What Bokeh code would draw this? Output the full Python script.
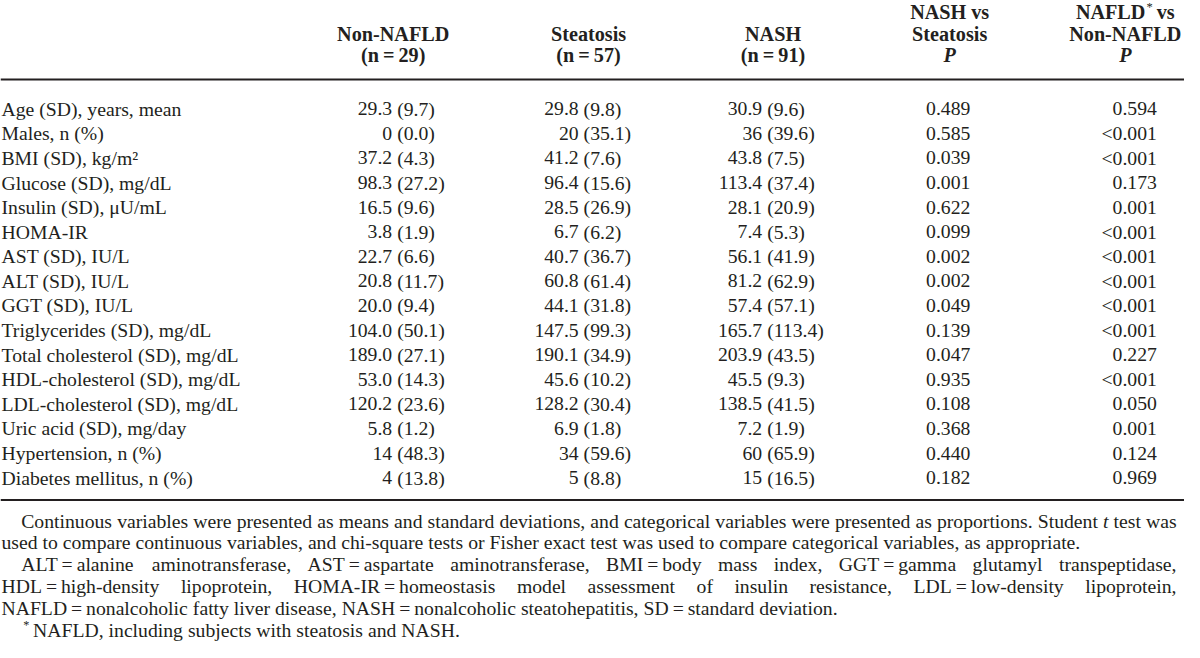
from bokeh.plotting import figure
from bokeh.models import ColumnDataSource, Range1d
from bokeh.core.properties import value
from bokeh.embed import file_html
from bokeh.resources import INLINE

# ---------------- data ----------------
row_labels = [
    "Age (SD), years, mean", "Males, n (%)", "BMI (SD), kg/m\u00b2", "Glucose (SD), mg/dL",
    "Insulin (SD), \u03bcU/mL", "HOMA-IR", "AST (SD), IU/L", "ALT (SD), IU/L", "GGT (SD), IU/L",
    "Triglycerides (SD), mg/dL", "Total cholesterol (SD), mg/dL", "HDL-cholesterol (SD), mg/dL",
    "LDL-cholesterol (SD), mg/dL", "Uric acid (SD), mg/day", "Hypertension, n (%)",
    "Diabetes mellitus, n (%)",
]
group_names = ["Non-NAFLD", "Steatosis", "NASH"]
group_n = [29, 57, 91]

non_nafld_mean = ["29.3", "0", "37.2", "98.3", "16.5", "3.8", "22.7", "20.8", "20.0", "104.0",
                  "189.0", "53.0", "120.2", "5.8", "14", "4"]
non_nafld_sd = ["(9.7)", "(0.0)", "(4.3)", "(27.2)", "(9.6)", "(1.9)", "(6.6)", "(11.7)", "(9.4)",
                "(50.1)", "(27.1)", "(14.3)", "(23.6)", "(1.2)", "(48.3)", "(13.8)"]
steatosis_mean = ["29.8", "20", "41.2", "96.4", "28.5", "6.7", "40.7", "60.8", "44.1", "147.5",
                  "190.1", "45.6", "128.2", "6.9", "34", "5"]
steatosis_sd = ["(9.8)", "(35.1)", "(7.6)", "(15.6)", "(26.9)", "(6.2)", "(36.7)", "(61.4)", "(31.8)",
                "(99.3)", "(34.9)", "(10.2)", "(30.4)", "(1.8)", "(59.6)", "(8.8)"]
nash_mean = ["30.9", "36", "43.8", "113.4", "28.1", "7.4", "56.1", "81.2", "57.4", "165.7",
             "203.9", "45.5", "138.5", "7.2", "60", "15"]
nash_sd = ["(9.6)", "(39.6)", "(7.5)", "(37.4)", "(20.9)", "(5.3)", "(41.9)", "(62.9)", "(57.1)",
           "(113.4)", "(43.5)", "(9.3)", "(41.5)", "(1.9)", "(65.9)", "(16.5)"]
p_nash_vs_steatosis = ["0.489", "0.585", "0.039", "0.001", "0.622", "0.099", "0.002", "0.002",
                       "0.049", "0.139", "0.047", "0.935", "0.108", "0.368", "0.440", "0.182"]
p_nafld_vs_non = ["0.594", "<0.001", "<0.001", "0.173", "0.001", "<0.001", "<0.001", "<0.001",
                  "<0.001", "<0.001", "0.227", "<0.001", "0.050", "0.001", "0.124", "0.969"]

note_lines = [
    "Continuous variables were presented as means and standard deviations, and categorical variables were presented as proportions. Student t test was",
    "used to compare continuous variables, and chi-square tests or Fisher exact test was used to compare categorical variables, as appropriate.",
    "ALT\u2009=\u2009alanine aminotransferase, AST\u2009=\u2009aspartate aminotransferase, BMI\u2009=\u2009body mass index, GGT\u2009=\u2009gamma glutamyl transpeptidase,",
    "HDL\u2009=\u2009high-density lipoprotein, HOMA-IR\u2009=\u2009homeostasis model assessment of insulin resistance, LDL\u2009=\u2009low-density lipoprotein,",
    "NAFLD\u2009=\u2009nonalcoholic fatty liver disease, NASH\u2009=\u2009nonalcoholic steatohepatitis, SD\u2009=\u2009standard deviation.",
    "NAFLD, including subjects with steatosis and NASH.",
]

# ---------------- layout / style ----------------
W, H = 1184, 642
XMAX, YMAX = 1200, 658
SX = XMAX / W
FONT = "Liberation Serif"
INK = "#231f20"
FS = 19.7
FS_HEAD = 20.2

# Times metrics (1/1000 em) for justification
ROMAN = {" ": 250, "\u2009": 200, ",": 250, ".": 250, "-": 333, "=": 564, "(": 333, ")": 333,
         "/": 278, "*": 500, "<": 564, "%": 833}
ROMAN.update(dict(zip("ABCDEFGHIJKLMNOPQRSTUVWXYZ",
                      [722, 667, 667, 722, 611, 556, 722, 722, 333, 389, 722, 611, 889, 722, 722,
                       556, 722, 667, 556, 611, 722, 722, 944, 722, 722, 611])))
ROMAN.update(dict(zip("abcdefghijklmnopqrstuvwxyz",
                      [444, 500, 444, 500, 444, 333, 500, 500, 278, 278, 500, 278, 778, 500, 500,
                       500, 500, 333, 389, 278, 500, 500, 722, 500, 500, 444])))
BOLD = {" ": 250, "N": 722, "A": 722, "F": 611, "L": 667, "D": 722, "v": 500, "s": 389}


def em(s, table=ROMAN):
    return sum(table.get(c, 500) for c in s) / 1000.0


p = figure(width=W, height=H, x_range=Range1d(0, XMAX), y_range=Range1d(YMAX, 0),
           output_backend="svg", toolbar_location=None, min_border=0,
           x_axis_location=None, y_axis_location=None, outline_line_color=None)
p.xgrid.visible = False
p.ygrid.visible = False


def txt(xs, ys, texts, align="left", size=FS, style="normal"):
    src = ColumnDataSource(dict(x=list(xs), y=list(ys), t=list(texts)))
    p.text(x="x", y="y", text="t", source=src, text_font=value(FONT),
           text_font_size=value(f"{size}px"), text_font_style=value(style),
           text_align=align, text_baseline="middle", text_color=INK)


# header
HY = [12, 34, 56]
g_centers = [398, 596, 783]
txt(g_centers, [HY[1]] * 3, group_names, "center", FS_HEAD, "bold")
txt(g_centers, [HY[2]] * 3, [f"(n\u2009=\u2009{n})" for n in group_n], "center", FS_HEAD, "bold")
P1C, P2C = 962, 1140
txt([P1C, P1C], [HY[0], HY[1]], ["NASH vs", "Steatosis"], "center", FS_HEAD, "bold")
txt([P1C, P2C], [HY[2], HY[2]], ["P", "P"], "center", FS_HEAD, "bold italic")
txt([P2C], [HY[1]], ["Non-NAFLD"], "center", FS_HEAD, "bold")
k = FS_HEAD * SX
w_n = em("NAFLD", BOLD) * k
w_star = 0.5 * 0.62 * k
w_sp = 0.25 * k
w_vs = em("vs", BOLD) * k
start = P2C - (w_n + w_star + w_sp + w_vs) / 2
txt([start], [HY[0]], ["NAFLD"], "left", FS_HEAD, "bold")
txt([start + w_n + 1], [HY[0] - 5], ["*"], "left", round(FS_HEAD * 0.62, 1), "normal")
txt([start + w_n + w_star + w_sp], [HY[0]], ["vs"], "left", FS_HEAD, "bold")

# rules
p.segment(x0=[0, 0], y0=[81, 512], x1=[XMAX, XMAX], y1=[81, 512], line_color=INK, line_width=2)

# body
ROW_Y0, ROW_DY = 111, 25.2
row_y = [ROW_Y0 + ROW_DY * i for i in range(len(row_labels))]
n = len(row_labels)
txt([1] * n, row_y, row_labels)
gap = 0.25 * FS * SX
for means, sds, xm in [(non_nafld_mean, non_nafld_sd, 397),
                       (steatosis_mean, steatosis_sd, 586),
                       (nash_mean, nash_sd, 772)]:
    txt([xm] * n, row_y, means, "right")
    txt([xm + gap] * n, row_y, sds, "left")
txt([983] * n, row_y, p_nash_vs_steatosis, "right")
txt([1172] * n, row_y, p_nafld_vs_non, "right")

# notes
NY0, NDY = 533, 22.4
RIGHT = 1192
specs = [(21, True), (1, False), (21, True), (1, True), (1, False), (33, False)]
for j, (line, (x0, justify)) in enumerate(zip(note_lines, specs)):
    y = NY0 + NDY * j
    words = line.split(" ")
    widths = [em(w) * FS * SX for w in words]
    if justify:
        g = (RIGHT - x0 - sum(widths)) / (len(words) - 1)
    else:
        g = 0.25 * FS * SX
    xs, x = [], x0
    for wd in widths:
        xs.append(x)
        x += wd + g
    reg = [(xx, w) for xx, w in zip(xs, words) if w != "t"]
    ital = [(xx, w) for xx, w in zip(xs, words) if w == "t"]
    txt([a for a, _ in reg], [y] * len(reg), [b for _, b in reg])
    if ital:
        txt([a for a, _ in ital], [y] * len(ital), [b for _, b in ital], style="italic")
    if j == 5:
        txt([23], [y - 5], ["*"], "left", round(FS * 0.62, 1))

open("out.html", "w").write(file_html(p, INLINE))
